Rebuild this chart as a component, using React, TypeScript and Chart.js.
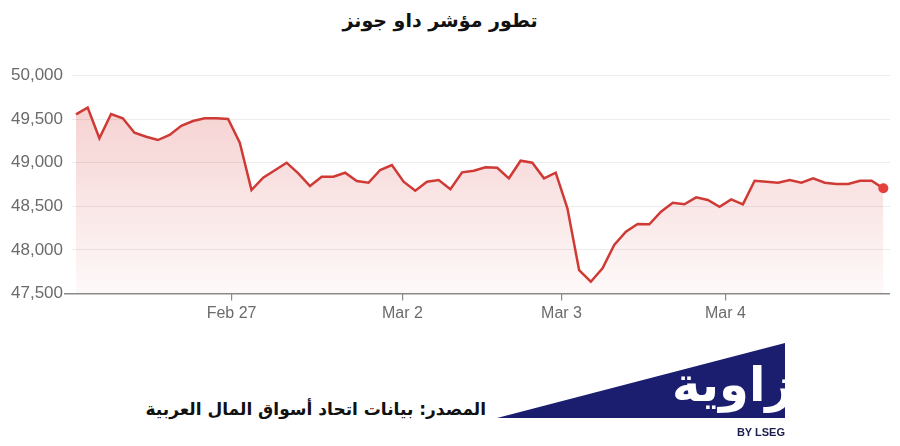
import React, { useEffect, useRef } from "react";
import { Chart, registerables } from "chart.js";

Chart.register(...registerables);

// Dow Jones index values (one point per interval, Feb 26 – Mar 4)
const dowValues: number[] = [
  49555, 49631, 49280, 49558, 49509, 49344, 49298, 49260, 49318, 49424,
  49478, 49509, 49509, 49501, 49230, 48687, 48828, 48913, 49000, 48878,
  48733, 48839, 48839, 48885, 48790, 48770, 48916, 48973, 48782, 48679,
  48782, 48801, 48695, 48890, 48908, 48947, 48942, 48821, 49023, 49000,
  48821, 48885, 48477, 47769, 47635, 47789, 48056, 48208, 48297, 48293,
  48438, 48541, 48523, 48603, 48572, 48495, 48580, 48523, 48793, 48782,
  48770, 48801, 48770, 48821, 48770, 48755, 48755, 48793, 48793, 48706,
];

// day boundary ticks (in point-index units) and their labels
const dayTickIndex: number[] = [13.3, 27.9, 41.5, 55.5];
const dayTickLabels: string[] = ["Feb 27", "Mar 2", "Mar 3", "Mar 4"];

// y axis
const yMin = 47500;
const yMax = 50000;
const yStep = 500;

const titleText = "تطور مؤشر داو جونز";
const sourceText = "المصدر: بيانات اتحاد أسواق المال العربية";
const logoText = "زاوية";
const logoSub = "BY LSEG";

export default function App() {
  const canvasRef = useRef<HTMLCanvasElement | null>(null);

  useEffect(() => {
    const canvas = canvasRef.current;
    if (!canvas) return;
    const lastIdx = dowValues.length - 1;
    const chart = new Chart(canvas, {
      type: "line",
      data: {
        datasets: [
          {
            data: dowValues.map((v, i) => ({ x: i, y: v })),
            borderColor: "#cf3a35",
            borderWidth: 2.5,
            tension: 0,
            fill: "start",
            backgroundColor: (ctx: any) => {
              const area = ctx.chart.chartArea;
              if (!area) return "rgba(210,60,60,0.15)";
              const g = ctx.chart.ctx.createLinearGradient(0, area.top, 0, area.bottom);
              g.addColorStop(0, "rgba(215,55,55,0.26)");
              g.addColorStop(1, "rgba(215,55,55,0.03)");
              return g;
            },
            pointRadius: (ctx: any) => (ctx.dataIndex === lastIdx ? 5 : 0),
            pointBackgroundColor: "#e5403b",
            pointBorderColor: "#e5403b",
            pointBorderWidth: 0,
            pointHoverRadius: 0,
          },
        ],
      },
      options: {
        animation: false,
        responsive: true,
        maintainAspectRatio: false,
        layout: { padding: { top: 75.5, right: 10, left: 0, bottom: 0 } },
        plugins: {
          legend: { display: false },
          tooltip: { enabled: false },
          title: { display: false },
        },
        scales: {
          x: {
            type: "linear",
            min: -0.34,
            max: 69.57,
            afterBuildTicks: (axis: any) => {
              axis.ticks = dayTickIndex.map((v) => ({ value: v }));
            },
            afterFit: (axis: any) => {
              axis.height = 36.5;
            },
            ticks: {
              autoSkip: false,
              maxRotation: 0,
              padding: 3,
              color: "#6b6b6b",
              font: { family: "'Liberation Sans', Arial, sans-serif", size: 16 },
              callback: (_v: any, index: number) => dayTickLabels[index],
            },
            grid: {
              display: true,
              drawOnChartArea: false,
              drawTicks: true,
              tickLength: 7,
              color: "#8a8a8a",
              tickColor: "#8a8a8a",
              lineWidth: 1.2,
            },
            border: { display: false },
          },
          y: {
            min: yMin,
            max: yMax,
            afterFit: (axis: any) => {
              axis.width = 72;
            },
            ticks: {
              stepSize: yStep,
              padding: 1,
              color: "#6b6b6b",
              font: { family: "'Liberation Sans', Arial, sans-serif", size: 17 },
              callback: (v: any) => Number(v).toLocaleString("en-US"),
            },
            grid: {
              color: (ctx: any) => (ctx.tick && ctx.tick.value === yMin ? "#8a8a8a" : "#ececec"),
              tickColor: (ctx: any) => (ctx.tick && ctx.tick.value === yMin ? "#8a8a8a" : "rgba(0,0,0,0)"),
              lineWidth: (ctx: any) => (ctx.tick && ctx.tick.value === yMin ? 1.5 : 1),
              tickLength: 8,
            },
            border: { display: false },
          },
        },
      },
    });
    return () => chart.destroy();
  }, []);

  return (
    <div
      style={{
        position: "fixed",
        left: 0,
        top: 0,
        width: 900,
        height: 446,
        background: "#fff",
        overflow: "hidden",
      }}
    >
      <div
        dir="rtl"
        style={{
          position: "absolute",
          left: -10,
          top: 4,
          width: 900,
          textAlign: "center",
          fontFamily: "'DejaVu Sans', sans-serif",
          fontSize: 19,
          fontWeight: 700,
          color: "#111",
          lineHeight: "32px",
        }}
      >
        {titleText}
      </div>
      <div style={{ position: "absolute", left: 0, top: 0, width: 900, height: 330 }}>
        <canvas ref={canvasRef} />
      </div>
      <div
        dir="rtl"
        style={{
          position: "absolute",
          left: 100,
          width: 386,
          top: 394,
          textAlign: "right",
          fontFamily: "'DejaVu Sans', sans-serif",
          fontSize: 17,
          fontWeight: 700,
          color: "#111",
          lineHeight: "30px",
          whiteSpace: "nowrap",
        }}
      >
        {sourceText}
      </div>
      <svg
        style={{ position: "absolute", left: 0, top: 0 }}
        width={900}
        height={446}
        viewBox="0 0 900 446"
      >
        <defs>
          <clipPath id="logoClip">
            <rect x={0} y={0} width={785} height={446} />
          </clipPath>
        </defs>
        <polygon points="497,418 785,343 785,418" fill="#1b1e6e" />
        <text
          x={793}
          y={401}
          direction="rtl"
          textAnchor="start"
          clipPath="url(#logoClip)"
          fill="#ffffff"
          fontFamily="'DejaVu Sans', sans-serif"
          fontWeight={700}
          fontSize={48}
        >
          {logoText}
        </text>
        <text
          x={785}
          y={436}
          textAnchor="end"
          fill="#1b1e4e"
          fontFamily="'Liberation Sans', Arial, sans-serif"
          fontWeight={700}
          fontSize={11}
        >
          {logoSub}
        </text>
      </svg>
    </div>
  );
}
